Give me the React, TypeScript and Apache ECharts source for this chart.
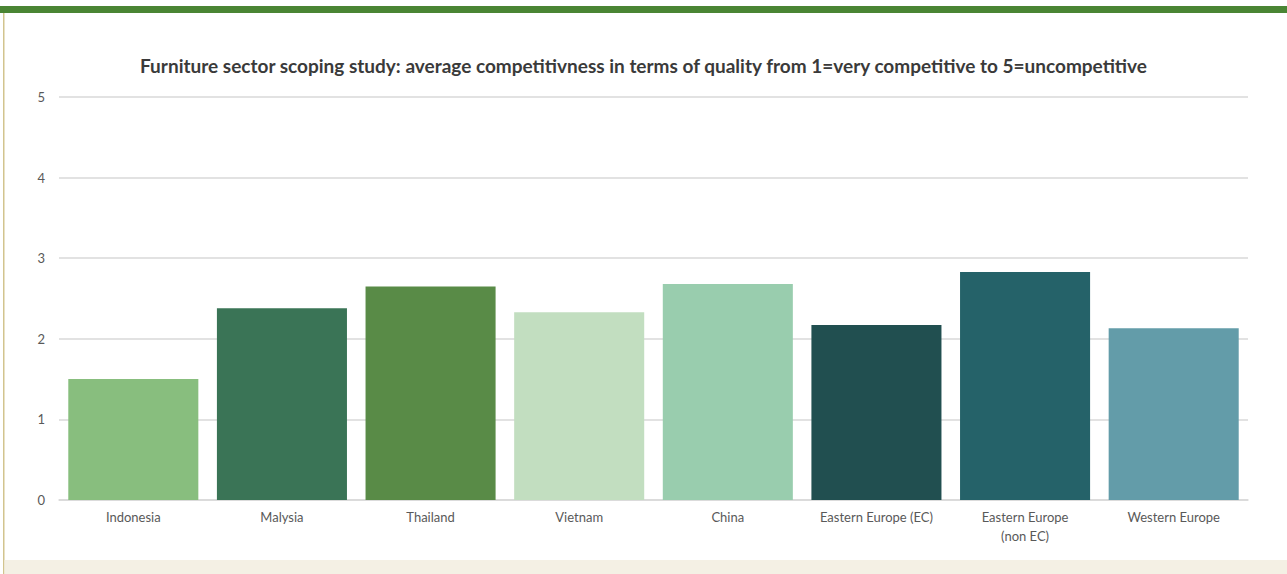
import React, { useEffect, useRef } from "react";
import * as echarts from "echarts";

const categories = [
  "Indonesia",
  "Malysia",
  "Thailand",
  "Vietnam",
  "China",
  "Eastern Europe (EC)",
  "Eastern Europe (non EC)",
  "Western Europe",
];
const values = [1.5, 2.38, 2.65, 2.33, 2.68, 2.17, 2.83, 2.13];
const barColors = [
  "#88BE7E",
  "#3A7456",
  "#598B47",
  "#C2DEC0",
  "#99CDAE",
  "#214F50",
  "#256269",
  "#639CA9",
];
const yTicks = [0, 1, 2, 3, 4, 5];
const titleText =
  "Furniture sector scoping study: average competitivness in terms of quality from 1=very competitive to 5=uncompetitive";

export default function App() {
  const ref = useRef<HTMLDivElement>(null);
  useEffect(() => {
    if (!ref.current) return;
    const chart = echarts.init(ref.current, null, { renderer: "svg" });
    chart.setOption({
      animation: false,
      backgroundColor: "#ffffff",
      textStyle: { fontFamily: "Lato" },
      title: {
        text: titleText,
        left: "center",
        top: 51,
        textStyle: {
          fontFamily: "Lato",
          fontWeight: "bold",
          fontSize: 19,
          color: "#3A3A3A",
        },
      },
      graphic: [
        { type: "rect", shape: { x: 0, y: 6, width: 1287, height: 7 }, style: { fill: "#4A8534" }, silent: true },
        { type: "rect", shape: { x: 3, y: 13, width: 1.5, height: 561 }, style: { fill: "#D2C48E" }, silent: true },
        { type: "rect", shape: { x: 4.5, y: 560, width: 1283, height: 14 }, style: { fill: "#F4F0E4" }, silent: true },
      ],
      grid: { left: 59, right: 39, top: 97, bottom: 74 },
      xAxis: {
        type: "category",
        data: categories,
        axisLine: { lineStyle: { color: "#D9D9D9", width: 1.5 } },
        axisTick: { show: false },
        axisLabel: {
          color: "#595959",
          fontSize: 13,
          fontFamily: "Lato",
          margin: 7,
          lineHeight: 19,
          interval: 0,
          formatter: (v: string) =>
            v === "Eastern Europe (non EC)" ? "Eastern Europe\n(non EC)" : v,
        },
      },
      yAxis: {
        type: "value",
        min: yTicks[0],
        max: yTicks[yTicks.length - 1],
        interval: 1,
        axisLine: { show: false },
        axisTick: { show: false },
        axisLabel: { color: "#595959", fontSize: 13, fontFamily: "Lato", margin: 14 },
        splitLine: { lineStyle: { color: "#D9D9D9", width: 1.5 } },
      },
      series: [
        {
          type: "bar",
          data: values.map((v, i) => ({ value: v, itemStyle: { color: barColors[i] } })),
          barCategoryGap: "12.5%",
        },
      ],
    });
    return () => chart.dispose();
  }, []);
  return (
    <div
      ref={ref}
      style={{ position: "fixed", left: 0, top: 0, width: 1287, height: 574 }}
    />
  );
}
